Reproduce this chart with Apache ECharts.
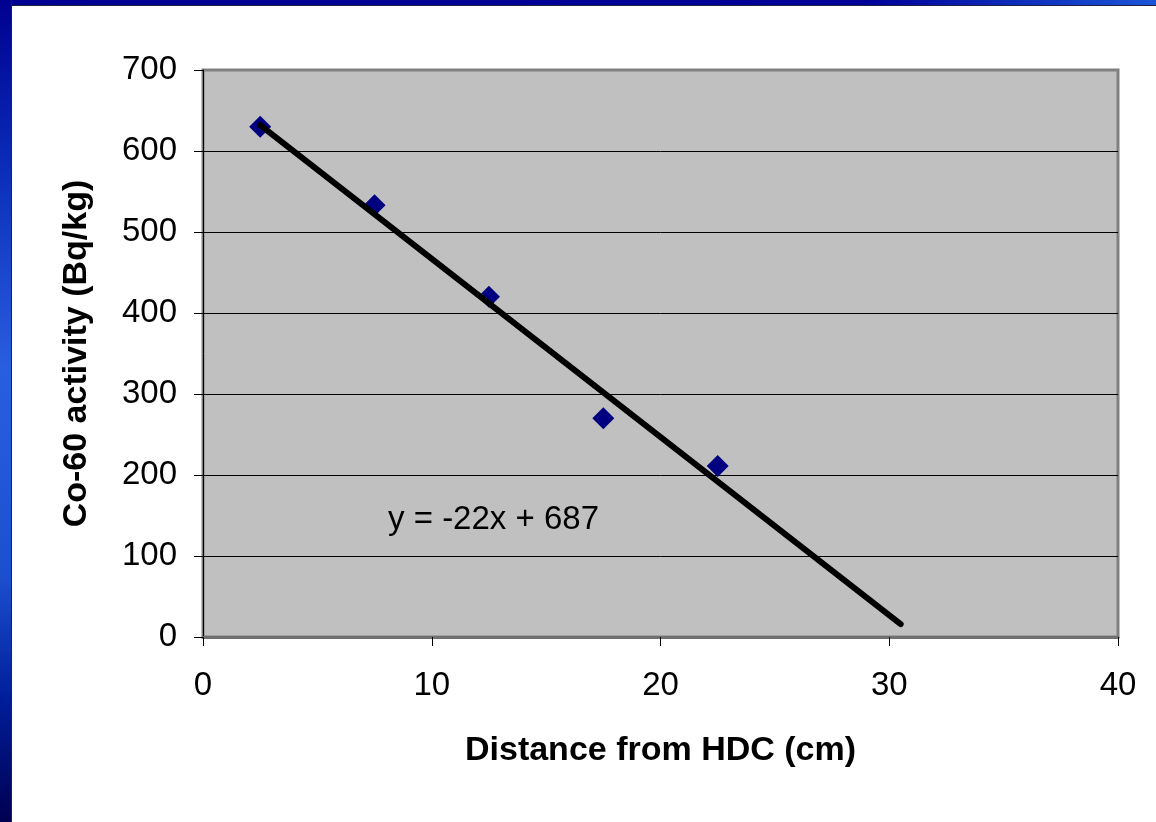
<!DOCTYPE html>
<html>
	<head>
		<meta charset="utf-8">
		<title></title>
		<style>
			body { margin: 0; background: #fff; }
			#topbar { position: absolute; left: 0; top: 0; width: 1156px; height: 5px;
				background: linear-gradient(to right, #000090 0%, #000099 75%, #1a55d8 100%);
				border-bottom: 1px solid #202040; }
			#leftbar { position: absolute; left: 0; top: 0; width: 11px; height: 822px;
				background: linear-gradient(to bottom, #000090 0%, #0a2cb8 20%, #2a5ee0 45%, #1c4fd0 70%, #001e9a 85%, #000050 100%);
				border-right: 1px solid #202040; }
		</style>
	</head>
	<body>
		<div id="topbar"></div>
		<div id="leftbar"></div>
		<!-- chart area -->
		<div id="container" style="position:absolute;left:0;top:0;width:1156px;height:822px;"></div>
	</body>
	<script src="https://cdn.jsdelivr.net/npm/echarts@6/dist/echarts.min.js"></script>
	<script type="text/javascript">
		'use strict'

		// measured points
		var distance = [2.5, 7.5, 12.5, 17.5, 22.5];
		var activity = [630, 533, 420, 270, 211];
		// linear trend line end points
		var trendX = [2.5, 30.5];
		var trendY = [632, 16];
		var equationText = 'y = -22x + 687';
		var equationAt = [12.7, 144];

		var font = 'Arial, "Liberation Sans", sans-serif';

		var points = distance.map(function(d, i) { return [d, activity[i]]; });
		var trend = trendX.map(function(d, i) { return [d, trendY[i]]; });

		var myCharts = echarts.init(document.getElementById('container'));
		var option = {
			animation: false,
			grid: {
				left: 203,
				right: 38,
				top: 70,
				bottom: 185,
				show: true,
				backgroundColor: '#c0c0c0',
				borderColor: '#808080',
				borderWidth: 3
			},
			xAxis: {
				type: 'value',
				min: 0,
				max: 40,
				interval: 10,
				name: 'Distance from HDC (cm)',
				nameLocation: 'middle',
				nameGap: 97,
				nameTextStyle: { fontFamily: font, fontSize: 34, fontWeight: 'bold', color: '#000' },
				axisLine: { show: true, onZero: false, lineStyle: { color: '#707070', width: 3 } },
				axisTick: { show: true, length: 9, lineStyle: { color: '#000', width: 1 } },
				axisLabel: { fontFamily: font, fontSize: 33, color: '#000', margin: 32 },
				splitLine: { show: false }
			},
			yAxis: {
				type: 'value',
				min: 0,
				max: 700,
				interval: 100,
				name: 'Co-60 activity (Bq/kg)',
				nameLocation: 'middle',
				nameGap: 109,
				nameTextStyle: { fontFamily: font, fontSize: 34, fontWeight: 'bold', color: '#000' },
				axisLine: { show: true, onZero: false, lineStyle: { color: '#000', width: 1 } },
				axisTick: { show: true, length: 9, lineStyle: { color: '#000', width: 1 } },
				axisLabel: { fontFamily: font, fontSize: 33, color: '#000', margin: 26 },
				splitLine: {
					show: true,
					lineStyle: {
						color: ['#707070', '#000', '#000', '#000', '#000', '#000', '#000', '#808080'],
						width: 1
					}
				}
			},
			series: [
				{
					name: 'data',
					type: 'scatter',
					data: points,
					symbol: 'diamond',
					symbolSize: 22,
					itemStyle: { color: '#000080', opacity: 1 },
					z: 2,
					markPoint: {
						symbol: 'circle',
						symbolSize: 0,
						data: [{ coord: equationAt }],
						label: {
							show: true,
							position: 'inside',
							formatter: equationText,
							fontFamily: font,
							fontSize: 33,
							color: '#000'
						}
					}
				},
				{
					name: 'trend',
					type: 'line',
					data: trend,
					symbol: 'none',
					lineStyle: { color: '#000', width: 6, cap: 'round' },
					z: 3
				}
			]
		};
		myCharts.setOption(option);
	</script>
</html>
